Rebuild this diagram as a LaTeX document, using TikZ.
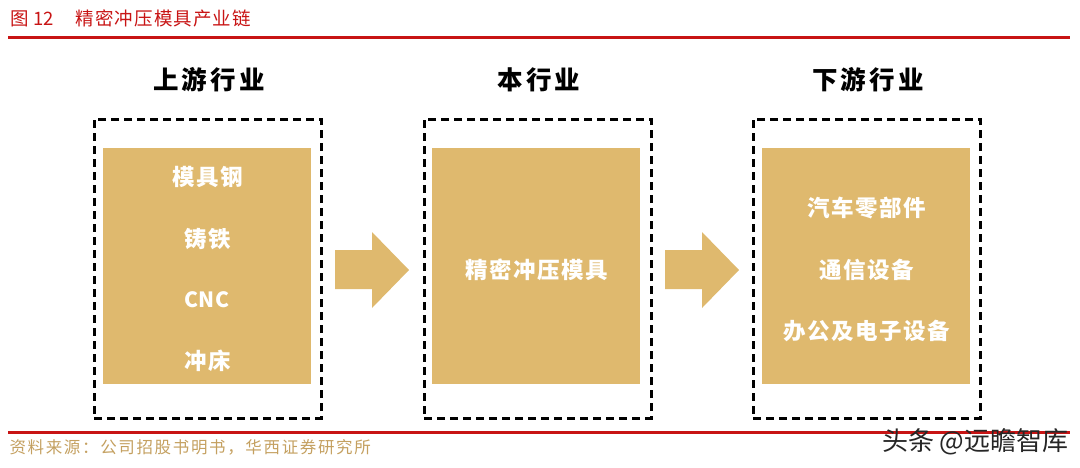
\documentclass[tikz,border=0pt]{standalone}
\usepackage{fontspec}
\usetikzlibrary{positioning}
\newfontfamily\cjk{Noto Sans CJK SC}
\newfontfamily\cjkhead{Noto Sans CJK SC}[LetterSpace=12]
\newfontfamily\cjkitem{Noto Sans CJK SC}[LetterSpace=7]
\newfontfamily\cjksmall{Noto Sans CJK SC}[LetterSpace=10]
\newfontfamily\cjktitle{Noto Sans CJK SC}[LetterSpace=6]
\definecolor{gold}{RGB}{223,185,110}
\definecolor{titlered}{RGB}{200,20,20}
\definecolor{srcbrown}{RGB}{196,160,96}

\begin{document}
\begin{tikzpicture}[x=1pt, y=-1pt, font=\cjk]

    % Define styles
    \tikzstyle{header} = [font=\cjkhead\bfseries\fontsize{25.5}{28}\selectfont, text=black]
    \tikzstyle{dashbox} = [draw=black, line width=3pt, dash pattern=on 8pt off 5pt, minimum width=227, minimum height=299]
    \tikzstyle{goldbox} = [fill=gold, minimum width=208, minimum height=236]
    \tikzstyle{item} = [font=\cjkitem\bfseries\fontsize{22.5}{24}\selectfont, text=white]
    \tikzstyle{redrule} = [titlered, line width=3pt]

    \useasboundingbox (0,0) rectangle (1080,467);

    % Title and rules
    \node[anchor=west, text=titlered, font=\cjk\fontsize{18.5}{20}\selectfont] (title) at (7,18) {图 12\hspace{22pt}{\cjktitle 精密冲压模具产业链}};
    \coordinate (topL) at (8,37);
    \coordinate (topR) at (1070,37);
    \draw[redrule] (topL) -- (topR);
    \coordinate (botL) at (8,432);
    \coordinate (botR) at (1070,432);
    \draw[redrule] (botL) -- (botR);

    % Dashed frames
    \node[dashbox] (up) at (207.5,268.5) {};
    \node[dashbox] (mid) at (537.5,268.5) {};
    \node[dashbox] (down) at (866.5,268.5) {};

    % Headers
    \node[header] (uphead) at (209,80) {上游行业};
    \node[header] (midhead) at (539,80) {本行业};
    \node[header] (downhead) at (868,80) {下游行业};

    % Gold boxes
    \node[goldbox] (upfill) at (207,266) {};
    \node[goldbox] (midfill) at (536,266) {};
    \node[goldbox] (downfill) at (866,266) {};

    % Upstream items
    \node[item] (steel) at (208,177) {模具钢};
    \node[item] (iron) at (208,239) {铸铁};
    \node[item, font=\cjk\bfseries\fontsize{21}{23}\selectfont] (cnc) at (207,300) {CNC};
    \node[item] (press) at (208,361) {冲床};

    % Industry item
    \node[item] (mould) at (537,270) {精密冲压模具};

    % Downstream items
    \node[item] (auto) at (867,208) {汽车零部件};
    \node[item] (comm) at (867,270) {通信设备};
    \node[item] (office) at (867,331) {办公及电子设备};

    % Arrows between stages
    \fill[gold] (335,250) -- (372,250) -- (372,232) -- (409,270) -- (372,308) -- (372,289) -- (335,289) -- cycle;
    \fill[gold] (665,250) -- (702,250) -- (702,232) -- (739,270) -- (702,308) -- (702,289) -- (665,289) -- cycle;

    % Source and watermark
    \node[anchor=west, text=srcbrown, font=\cjksmall\fontsize{16.5}{18}\selectfont] (source) at (6,447) {资料来源：公司招股书明书，华西证券研究所};
    \node[anchor=east, text=black!85, font=\cjk\fontsize{26}{28}\selectfont] (mark) at (1072,442) {头条 @远瞻智库};

\end{tikzpicture}
\end{document}
